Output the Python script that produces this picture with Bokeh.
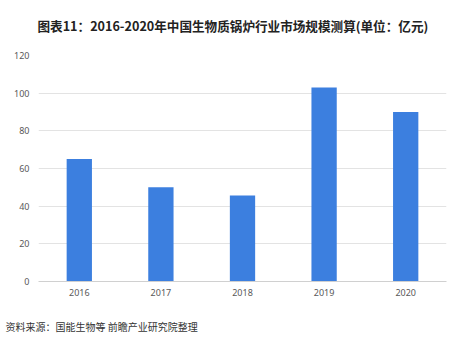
from bokeh.plotting import figure
from bokeh.models import ColumnDataSource, Title, Range1d, FactorRange
from bokeh.embed import file_html
from bokeh.resources import INLINE

years = ["2016", "2017", "2018", "2019", "2020"]
values = [65, 50, 45.6, 103, 90]
y_ticks = [0, 20, 40, 60, 80, 100, 120]
title_text = "图表11：2016-2020年中国生物质锅炉行业市场规模测算(单位：亿元)"
source_text = "资料来源：国能生物等 前瞻产业研究院整理"

src = ColumnDataSource(dict(x=years, top=values))

p = figure(width=474, height=338, x_range=FactorRange(*years, range_padding=0),
           y_range=Range1d(0, 120), output_backend="svg", toolbar_location=None,
           min_border_left=38, min_border_right=28, min_border_top=55, min_border_bottom=57)
p.outline_line_color = None
p.background_fill_color = "white"
p.border_fill_color = "white"

p.vbar(x="x", top="top", width=0.31, source=src, color="#3c7fdf", line_color=None)

p.yaxis.ticker = y_ticks
p.yaxis.axis_line_color = None
p.yaxis.major_tick_line_color = None
p.yaxis.minor_tick_line_color = None
p.yaxis.major_tick_out = 0
p.yaxis.major_label_text_font_size = "9px"
p.yaxis.major_label_text_color = "#595959"
p.yaxis.major_label_standoff = 9
p.yaxis.major_label_text_font = "Noto Sans"

p.xaxis.axis_line_color = "#d0d0d0"
p.xaxis.major_tick_line_color = None
p.xaxis.minor_tick_line_color = None
p.xaxis.major_tick_out = 0
p.xaxis.major_label_text_font_size = "9px"
p.xaxis.major_label_text_color = "#595959"
p.xaxis.major_label_standoff = 7
p.xaxis.major_label_text_font = "Noto Sans"

p.xgrid.grid_line_color = None
p.ygrid.grid_line_color = "#e3e3e3"
p.ygrid.grid_line_width = 1

# top: spacer next to frame, then title
p.add_layout(Title(text=" ", text_font_size="1px", standoff=18), "above")
p.add_layout(Title(text=title_text, align="left", offset=-1, standoff=0,
                   text_font="Noto Sans CJK SC", text_font_style="bold",
                   text_font_size="12.6px", text_color="#222222"), "above")
# bottom: spacer after axis, then source
p.add_layout(Title(text=" ", text_font_size="1px", standoff=11), "below")
p.add_layout(Title(text=source_text, align="left", offset=-33, standoff=9,
                   text_font="Noto Sans CJK SC", text_font_style="normal",
                   text_font_size="10px", text_color="#333333"), "below")

open("out.html", "w").write(file_html(p, INLINE))
